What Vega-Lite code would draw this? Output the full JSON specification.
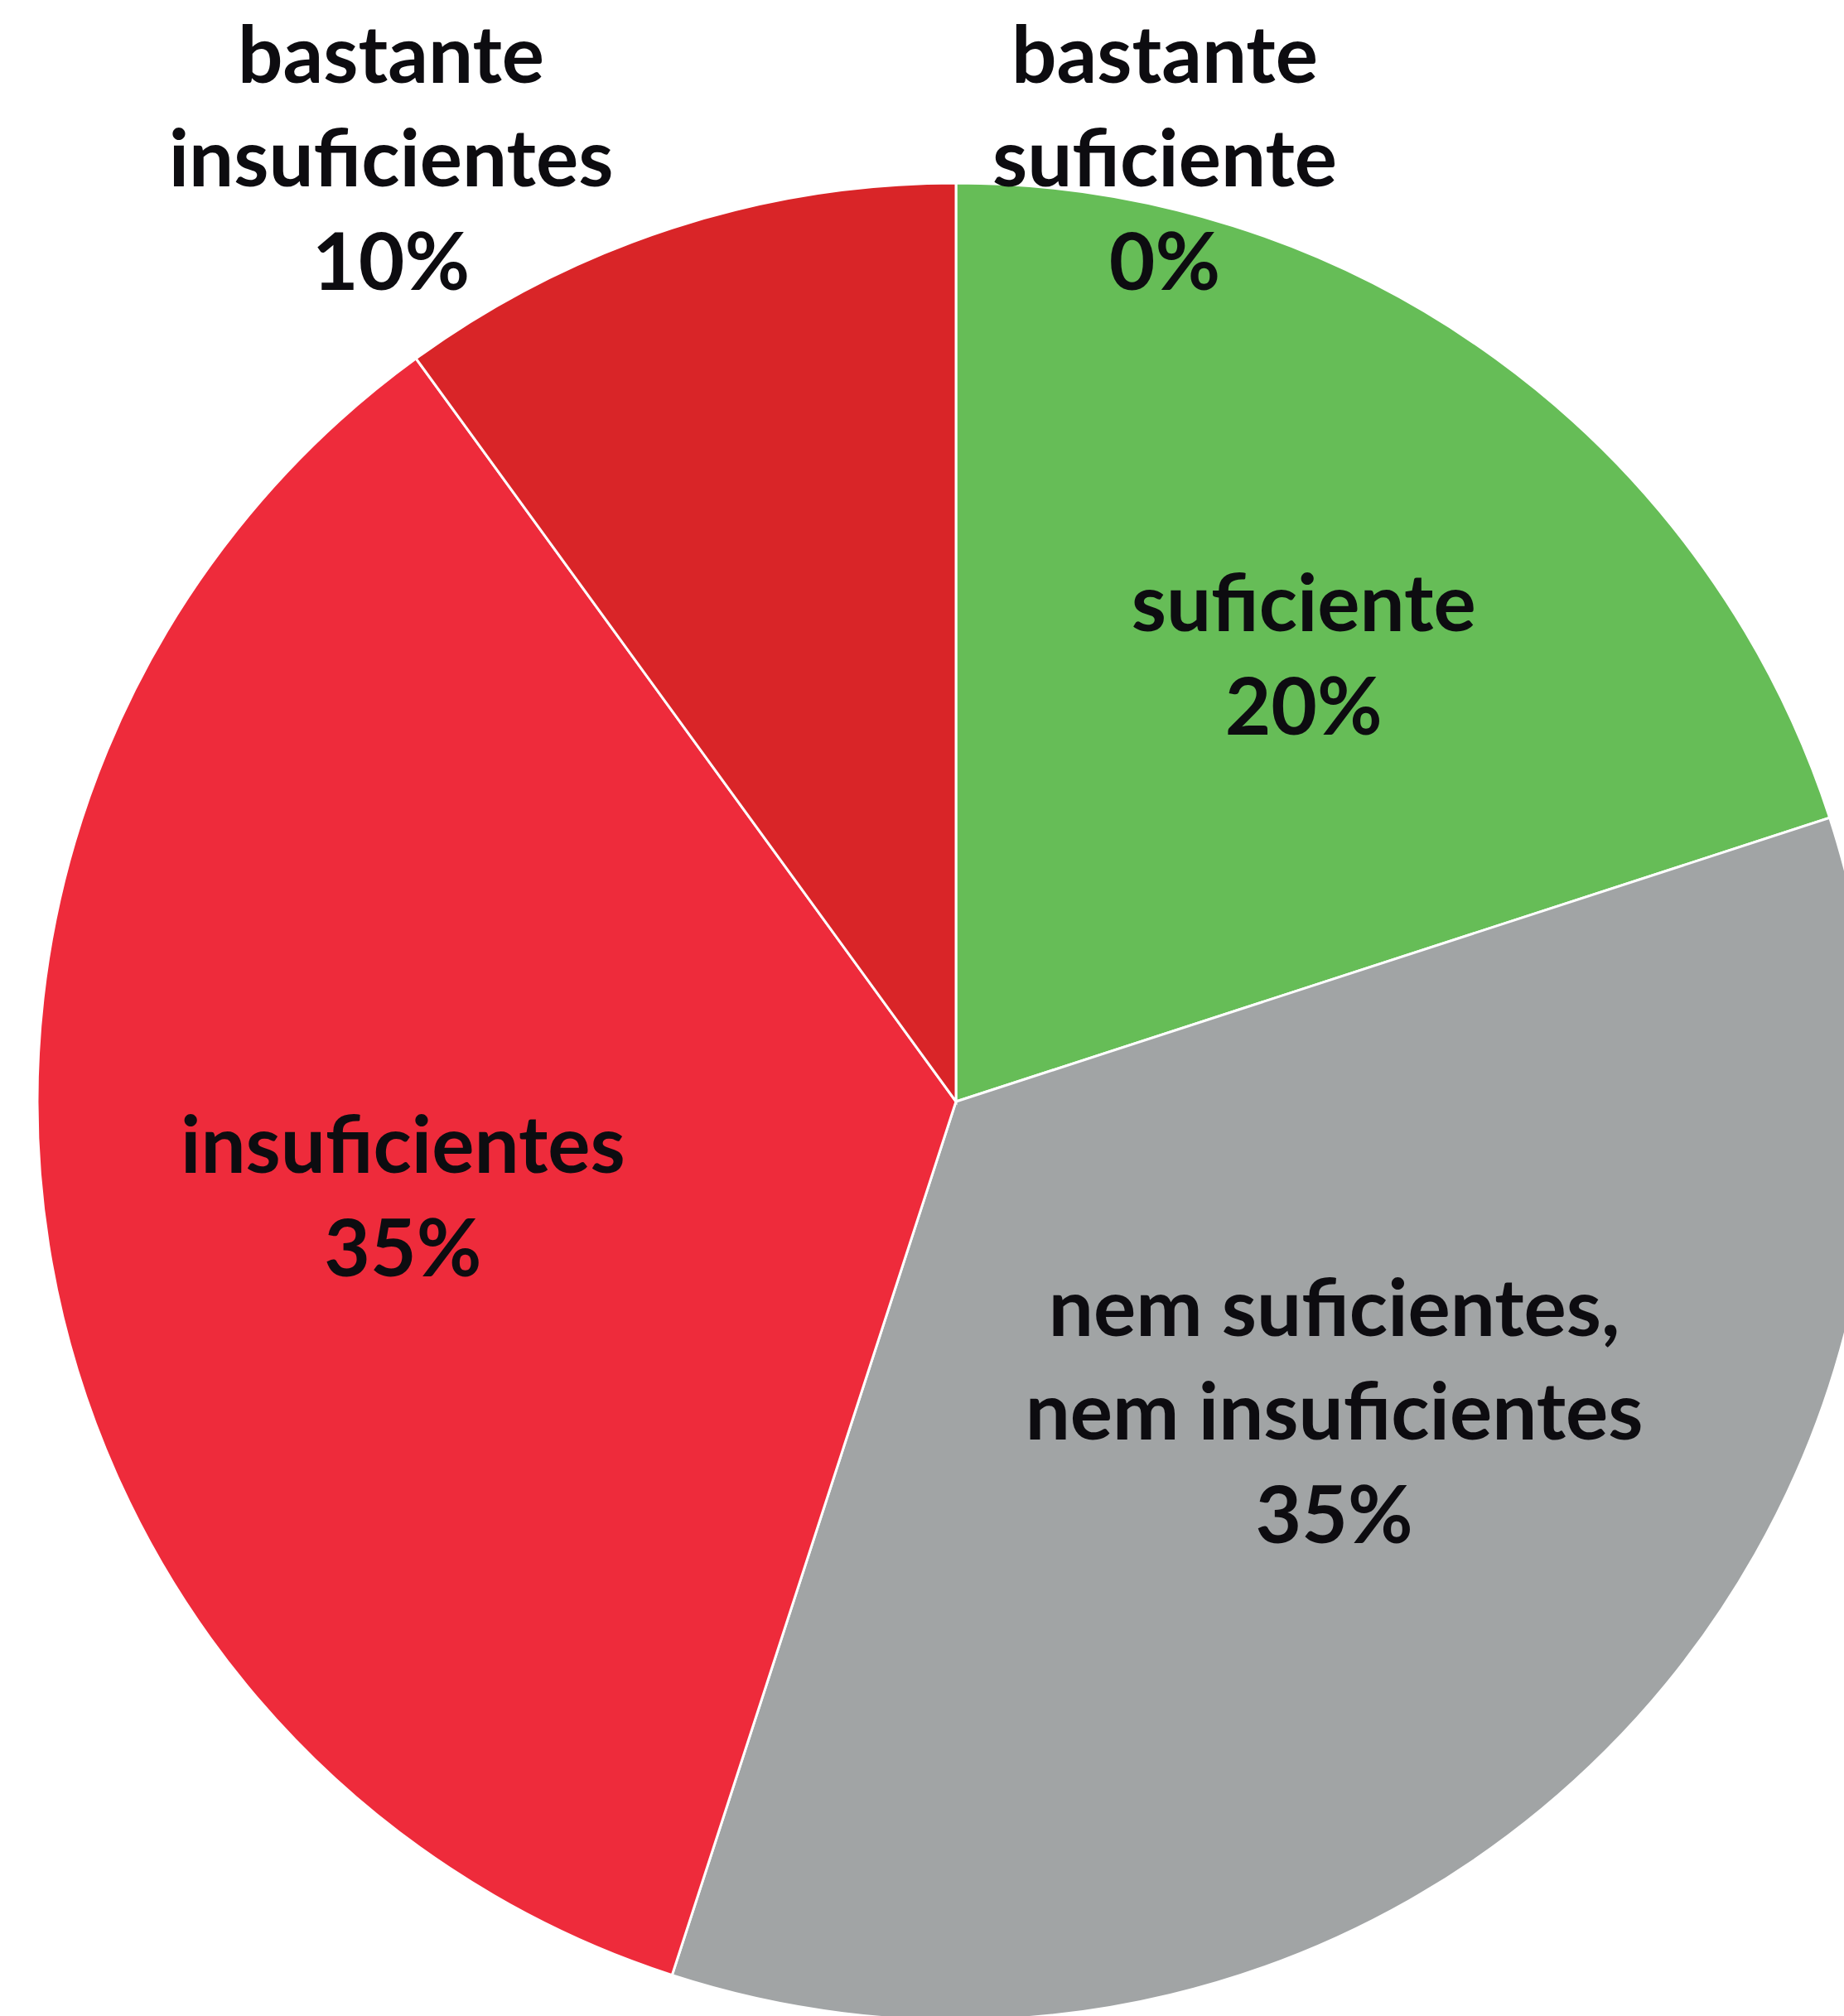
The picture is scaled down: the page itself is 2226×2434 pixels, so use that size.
{
  "$schema": "https://vega.github.io/schema/vega-lite/v6.json",
  "width": 2308,
  "height": 2660,
  "padding": 0,
  "autosize": {"type": "none"},
  "background": "white",
  "view": {"stroke": null},
  "config": {"text": {"font": "Lato", "fontWeight": "bold", "lineBreak": "\n"}},
  "data": {
    "values": [
      {"cat": "bastante suficiente", "ordem": 1, "pct": 0, "label": "bastante\nsuficiente\n0%"},
      {"cat": "suficiente", "ordem": 2, "pct": 20, "label": "suficiente\n20%"},
      {"cat": "nem suficientes, nem insuficientes", "ordem": 3, "pct": 35, "label": "nem suficientes,\nnem insuficientes\n35%"},
      {"cat": "insuficientes", "ordem": 4, "pct": 35, "label": "insuficientes\n35%"},
      {"cat": "bastante insuficientes", "ordem": 5, "pct": 10, "label": "bastante\ninsuficientes\n10%"}
    ]
  },
  "encoding": {
    "theta": {"field": "pct", "type": "quantitative", "stack": true},
    "order": {"field": "ordem", "type": "quantitative"},
    "detail": {"field": "cat", "type": "nominal"}
  },
  "layer": [
    {
      "mark": {"type": "arc", "outerRadius": 1109, "stroke": "white", "strokeWidth": 3},
      "encoding": {
        "color": {
          "field": "cat",
          "type": "nominal",
          "legend": null,
          "scale": {
            "domain": ["bastante suficiente", "suficiente", "nem suficientes, nem insuficientes", "insuficientes", "bastante insuficientes"],
            "range": ["#4E9A3F", "#66BD57", "#A1A4A5", "#EE2B3B", "#D92528"]
          }
        }
      }
    },
    {
      "mark": {"type": "text", "radius": 680, "dx": 20, "dy": -47, "fontSize": 96, "lineHeight": 125, "baseline": "middle", "align": "center", "color": "#0D0C10"},
      "encoding": {
        "text": {"condition": {"test": "datum.cat === 'suficiente'", "field": "label"}, "value": ""}
      }
    },
    {
      "mark": {"type": "text", "radius": 680, "dx": 4, "dy": -49, "fontSize": 96, "lineHeight": 125, "baseline": "middle", "align": "center", "color": "#0D0C10"},
      "encoding": {
        "text": {"condition": {"test": "datum.cat === 'insuficientes'", "field": "label"}, "value": ""}
      }
    },
    {
      "mark": {"type": "text", "radius": 592, "dx": 38, "dy": -165, "fontSize": 96, "lineHeight": 125, "baseline": "middle", "align": "center", "color": "#0D0C10"},
      "encoding": {
        "text": {"condition": {"test": "datum.cat === 'nem suficientes, nem insuficientes'", "field": "label"}, "value": ""}
      }
    },
    {
      "mark": {"type": "text", "radius": 1136, "dx": 252, "dy": -123, "fontSize": 96, "lineHeight": 125, "baseline": "middle", "align": "center", "color": "#0D0C10"},
      "encoding": {
        "text": {"condition": {"test": "datum.cat === 'bastante suficiente'", "field": "label"}, "value": ""}
      }
    },
    {
      "mark": {"type": "text", "radius": 1194, "dx": -313, "dy": -123, "fontSize": 96, "lineHeight": 125, "baseline": "middle", "align": "center", "color": "#0D0C10"},
      "encoding": {
        "text": {"condition": {"test": "datum.cat === 'bastante insuficientes'", "field": "label"}, "value": ""}
      }
    }
  ]
}
